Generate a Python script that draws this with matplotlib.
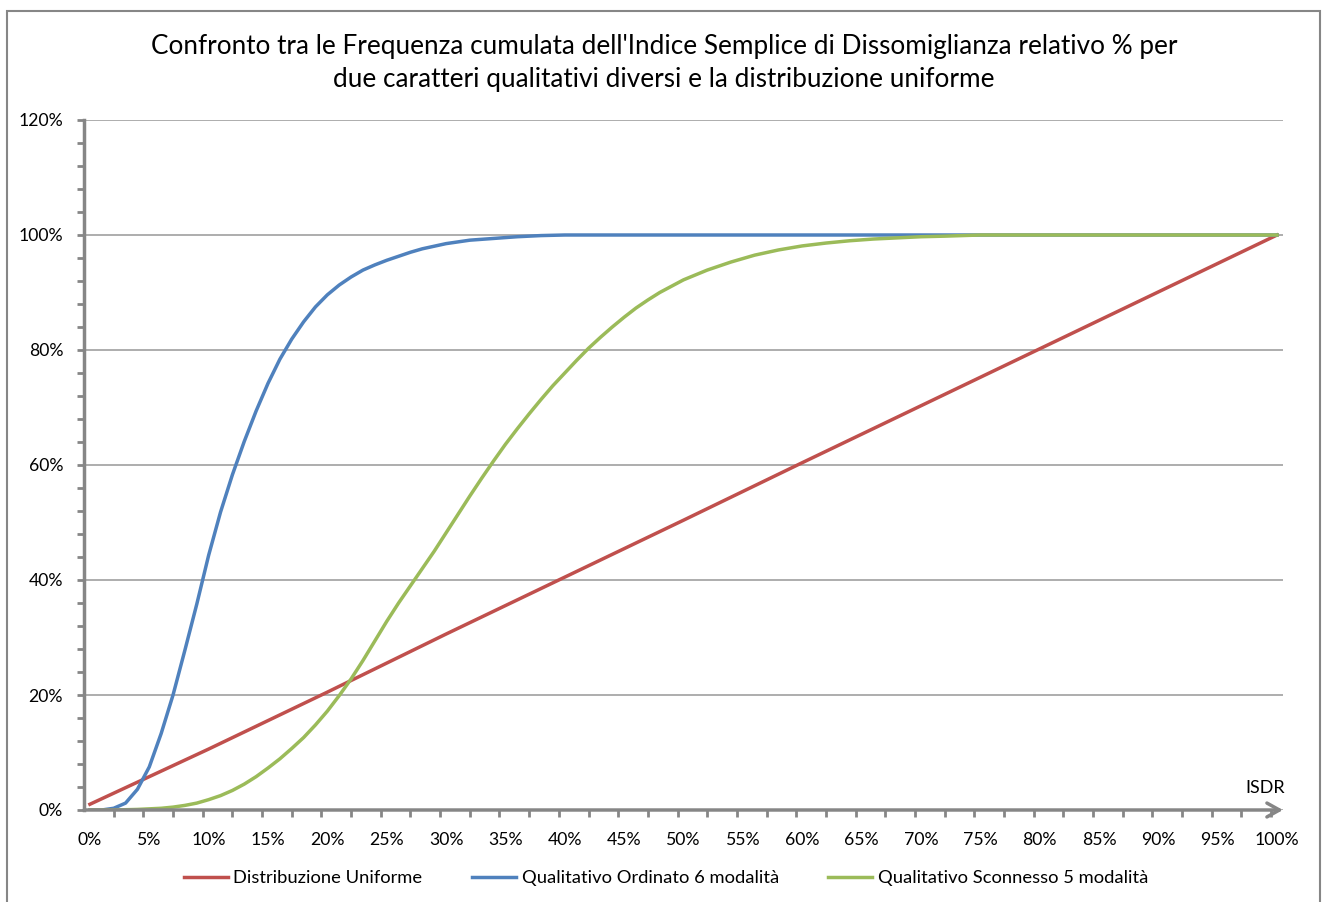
import numpy as np
import matplotlib.pyplot as plt
from matplotlib.ticker import MultipleLocator, FixedLocator, FuncFormatter
from matplotlib.patches import Rectangle

# ISDR (%) and cumulative frequency (%)
x_unif = [0, 10, 20, 30, 40, 50, 60, 70, 80, 90, 100]
y_unif = [1.0, 10.6, 20.5, 30.6, 40.5, 50.4, 60.4, 70.3, 80.2, 90.1, 100]

x_ord = [0, 1, 2, 3, 4, 5, 6, 7, 8, 9, 10, 11, 12, 13, 14, 15, 16, 17, 18, 19, 20,
         21, 22, 23, 24, 25, 26, 27, 28, 30, 32, 34, 36, 38, 40, 45, 100]
y_ord = [0, 0, 0.3, 1.2, 3.6, 7.5, 13.3, 20.0, 27.8, 35.8, 44.3, 51.8, 58.3, 64.1, 69.4,
         74.2, 78.4, 81.9, 84.9, 87.5, 89.6, 91.3, 92.7, 93.9, 94.8, 95.6, 96.3, 97.0,
         97.6, 98.5, 99.1, 99.4, 99.7, 99.9, 100, 100, 100]

x_sco = [0, 2, 4, 6, 7, 8, 9, 10, 11, 12, 13, 14, 15, 16, 17, 18, 19, 20, 21, 22, 23, 24,
         25, 26, 27, 28, 29, 30, 31, 32, 33, 34, 35, 36, 37, 38, 39, 40, 41, 42, 43, 44,
         45, 46, 47, 48, 50, 52, 54, 56, 58, 60, 62, 64, 66, 68, 70, 72, 75, 100]
y_sco = [0, 0, 0.1, 0.3, 0.5, 0.8, 1.2, 1.8, 2.5, 3.4, 4.5, 5.8, 7.3, 8.9, 10.7, 12.6, 14.8,
         17.2, 19.9, 22.8, 26.0, 29.4, 32.8, 36.0, 39.0, 42.0, 45.0, 48.2, 51.4, 54.6,
         57.7, 60.7, 63.6, 66.3, 68.9, 71.4, 73.8, 76.0, 78.2, 80.3, 82.2, 84.0, 85.7,
         87.3, 88.7, 90.0, 92.2, 93.9, 95.3, 96.5, 97.4, 98.1, 98.6, 99.0, 99.3, 99.5,
         99.7, 99.8, 100, 100]

plt.rcParams['font.family'] = ['Lato', 'DejaVu Sans']
grey = '#868686'

fig = plt.figure(figsize=(13.22, 9.02), dpi=100)
ax = fig.add_axes([84 / 1322, 1 - 810 / 902, (1283 - 84) / 1322, (810 - 120) / 902])

ax.plot(x_unif, y_unif, color='#C0504D', lw=2.5, label='Distribuzione Uniforme')
ax.plot(x_ord, y_ord, color='#4F81BD', lw=2.5, label='Qualitativo Ordinato 6 modalità')
ax.plot(x_sco, y_sco, color='#9BBB59', lw=2.5, label='Qualitativo Sconnesso 5 modalità')

ax.set_xlim(-0.5, 100.5)
ax.set_ylim(0, 120)
pct = FuncFormatter(lambda v, p: '%d%%' % round(v))
ax.xaxis.set_major_locator(MultipleLocator(5))
ax.xaxis.set_major_formatter(pct)
ax.xaxis.set_minor_locator(FixedLocator(np.arange(2, 100.5, 2.5)))
ax.yaxis.set_major_locator(MultipleLocator(20))
ax.yaxis.set_minor_locator(MultipleLocator(4))
ax.yaxis.set_major_formatter(pct)
ax.tick_params(axis='x', which='major', length=0, pad=16, labelsize=12.7)
ax.tick_params(axis='x', which='minor', length=5, width=2, color=grey)
ax.tick_params(axis='y', which='both', length=5, width=2, color=grey, labelsize=12.7, pad=10)
ax.grid(axis='y', which='major', color='#a0a0a0', lw=1.2)

for s in ['top', 'right', 'bottom']:
    ax.spines[s].set_visible(False)
ax.spines['left'].set_color(grey)
ax.spines['left'].set_linewidth(2.5)

# x axis with arrow
ax.annotate('', xy=(1.0, 0), xytext=(0, 0), xycoords='axes fraction',
            arrowprops=dict(arrowstyle='->,head_length=0.9,head_width=0.5', color=grey, lw=2.5,
                            shrinkA=0, shrinkB=0), annotation_clip=False)
ax.text(99, 2.5, 'ISDR', ha='center', va='bottom', fontsize=13)

fig.suptitle("Confronto tra le Frequenza cumulata dell'Indice Semplice di Dissomiglianza relativo % per\n"
             "due caratteri qualitativi diversi e la distribuzione uniforme",
             x=664 / 1322, y=1 - 34 / 902, fontsize=18.8, linespacing=1.4, va='top')

fig.legend(loc='center', bbox_to_anchor=(666 / 1322, 1 - 878 / 902), ncol=3, frameon=False,
           fontsize=13.2, handlelength=2.4, handletextpad=0.3, columnspacing=2.7)

fig.patches.append(Rectangle((7 / 1322, -0.05), (1320 - 7) / 1322, 1.05 - 11 / 902,
                             transform=fig.transFigure, fill=False, edgecolor=grey, lw=1.5))

fig.savefig('out.png', dpi=100)
